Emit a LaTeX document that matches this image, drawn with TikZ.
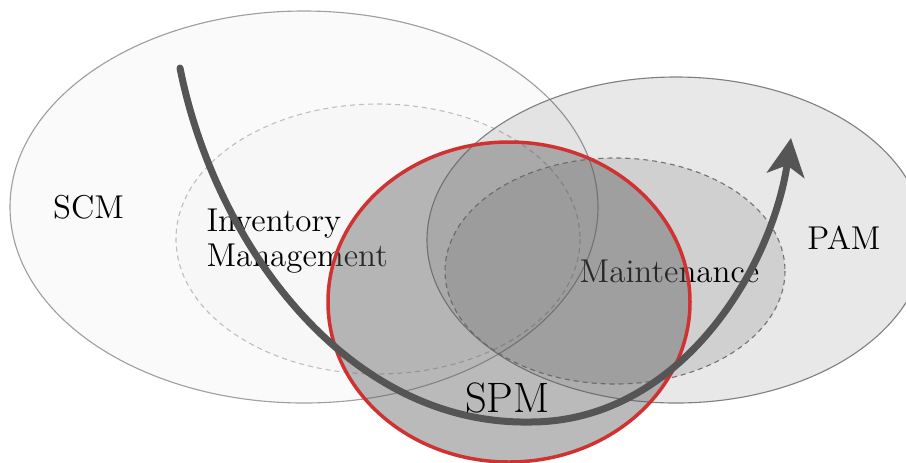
\documentclass[tikz,border=0pt]{standalone}
\usepackage{amsmath}
\usepackage{tikz}
\usetikzlibrary{arrows.meta, math}

\definecolor{spmred}{RGB}{208,50,50}
\definecolor{spmfill}{RGB}{95,95,95}
\definecolor{flowgray}{RGB}{85,85,85}

\begin{document}
\begin{tikzpicture}[x=0.4pt, y=-0.4pt, >={Stealth[length=15pt, width=15pt, inset=4pt]},
  areatext/.style={font=\fontsize{13.2}{14}\selectfont, inner sep=0pt},
  outerset/.style={fill=black, line width=0.45pt},
  innerset/.style={fill=black, line width=0.45pt, dash pattern=on 2pt off 1.6pt}]

\tikzmath{
  \scmx = 304; \scmy = 207; \scma = 294; \scmb = 196;
  \invx = 378; \invy = 239; \inva = 202; \invb = 135;
  \pamx = 676; \pamy = 240; \pama = 249; \pamb = 163;
  \mntx = 615; \mnty = 271; \mnta = 170; \mntb = 113;
  \spmx = 509; \spmy = 302; \spma = 181; \spmb = 160;
}

\useasboundingbox (0,0) rectangle (906,462);

\draw[outerset, draw=gray!75, fill opacity=0.02] (\scmx,\scmy) ellipse ({\scma} and {\scmb});
\node[areatext, anchor=base] (scm) at (88.5,218) {SCM};

\draw[innerset, draw=gray!50, fill opacity=0.012] (\invx,\invy) ellipse ({\inva} and {\invb});
\node[areatext, anchor=base west, align=left] (inv) at (206,266) {Inventory\\Management};

\draw[outerset, draw=gray, fill opacity=0.09] (\pamx,\pamy) ellipse ({\pama} and {\pamb});
\node[areatext, anchor=base] (pam) at (844,249) {PAM};

\draw[innerset, draw=black!55, fill opacity=0.1] (\mntx,\mnty) ellipse ({\mnta} and {\mntb});
\node[areatext, anchor=base] (mnt) at (669.5,282) {Maintenance};

\draw[spmred, line width=1.4pt, fill=spmfill, fill opacity=0.43] (\spmx,\spmy) ellipse ({\spma} and {\spmb});

\coordinate (flowstart) at (180,68);
\coordinate (flowlow) at (530,422);
\coordinate (flowtip) at (791,138);
\draw[flowgray, line width=2.8pt, line cap=round, ->] (flowstart) .. controls (214,240) and (345,425) .. (flowlow) .. controls (680,422) and (772,268) .. (flowtip);

\node[areatext, font=\fontsize{17}{18}\selectfont, anchor=base] (spm) at (507.5,412) {SPM};

\end{tikzpicture}
\end{document}
